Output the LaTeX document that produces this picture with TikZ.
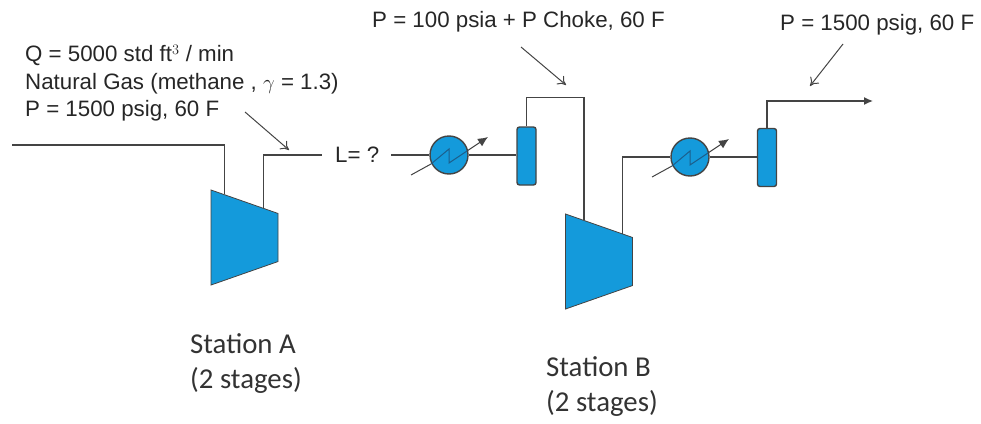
\documentclass[tikz,border=0pt]{standalone}
\usepackage{fontspec}
\setmainfont{Liberation Sans}
\newfontfamily\stationfont{Carlito}
\usepackage{xcolor}
\usetikzlibrary{positioning,arrows.meta,calc,shapes.geometric}
\definecolor{unitblue}{HTML}{149ADB}
\definecolor{pipegray}{HTML}{444444}
\definecolor{coildark}{HTML}{1C5F8C}

\begin{document}
\begin{tikzpicture}[
  x=1pt, y=-1pt,
  pipe/.style={draw=pipegray, line width=1.3pt},
  flowarr/.style={pipe, -{Latex[length=9pt,width=8pt]}},
  note/.style={draw=pipegray, line width=1pt, -{To[length=8pt,width=11pt]}},
  compressor/.style={draw=pipegray, fill=unitblue, line width=0.8pt, trapezium, rotate=-90, trapezium angle=64,
    trapezium stretches=true, minimum width=95pt, minimum height=67pt, inner sep=1pt},
  cooler/.style={draw=pipegray, fill=unitblue, line width=1.4pt, circle, minimum size=38pt, inner sep=0pt},
  vessel/.style={draw=pipegray, fill=unitblue, line width=1.4pt, rounded corners=2.5pt, minimum width=19pt, minimum height=58pt, inner sep=0pt},
  cond/.style={text=black!85, font=\fontsize{22.3}{27.5}\selectfont, align=left, inner sep=0pt},
  station/.style={text=black!80, font=\stationfont\fontsize{28.8}{35.5}\selectfont, align=left, inner sep=0pt}
]
  \useasboundingbox (0,0) rectangle (981,423);

  % units
  \node[compressor] (compA) at (244.5,237.5) {};
  \node[compressor] (compB) at (599,261.5) {};
  \node[cooler] (coolA) at (449,155) {};
  \node[cooler] (coolB) at (690,157) {};
  \node[vessel] (sepA) at (526.5,156) {};
  \node[vessel] (sepB) at (767,157.5) {};

  % text
  \node[cond, anchor=west] (feed) at (25,83) {Q = 5000 std ft$^{3}$ / min\\Natural Gas (methane , $\gamma$ = 1.3)\\P = 1500 psig, 60 F};
  \node[cond, anchor=west] (choke) at (372,22) {P = 100 psia + P Choke, 60 F};
  \node[cond, anchor=west] (exit) at (780,25) {P = 1500 psig, 60 F};
  \node[cond, anchor=west, inner xsep=0pt] (len) at (335,155) {L= ?};
  \node[station, anchor=north west] (stnA) at (190,333) {Station A\\(2 stages)};
  \node[station, anchor=north west] (stnB) at (546,356) {Station B\\(2 stages)};

  % free ends
  \coordinate (inlet) at (12,145);
  \coordinate (outlet) at (873,101);
  \coordinate (feedtip) at (289,150);
  \coordinate (feedtail) at (245,112);
  \coordinate (choketip) at (566,85);
  \coordinate (choketail) at (521,47);
  \coordinate (exittip) at (810,86);
  \coordinate (exittail) at (843,44);
  \coordinate (inA) at ($(compA.bottom left corner)!0.21!(compA.top left corner)$);
  \coordinate (outA) at ($(compA.bottom left corner)!0.78!(compA.top left corner)$);
  \coordinate (inB) at ($(compB.bottom left corner)!0.28!(compB.top left corner)$);
  \coordinate (outB) at ($(compB.bottom left corner)!0.85!(compB.top left corner)$);

  % pipes
  \draw[pipe] (inlet) -| (inA);
  \draw[pipe] (outA) |- ($(len.west)+(-13,0)$);
  \draw[pipe] ($(len.east)+(12,0)$) -- (coolA.west);
  \draw[pipe] (coolA.east) -- (coolA.east -| sepA.west);
  \draw[pipe] (sepA.north) -- ++(0,-29) -| (inB);
  \draw[pipe] (outB) |- (coolB.west);
  \draw[pipe] (coolB.east) -- (coolB.east -| sepB.west);
  \draw[flowarr] (sepB.north) |- (outlet);

  % cooler symbols
  \foreach \u in {coolA, coolB} {
    \draw[pipe, line width=1pt] ($(\u)+(-38,20)$) -- ($(\u)+(-18,9)$);
    \draw[coildark, line width=1pt] ($(\u)+(-18,9)$) -- ($(\u)+(0,-6)$) -- ($(\u)+(0,8)$) -- ($(\u)+(18,-4)$);
    \draw[pipe, line width=1pt, -{Latex[length=10pt,width=9pt]}] ($(\u)+(18,-4)$) -- ($(\u)+(39,-18)$);
  }

  % pointers
  \draw[note] (feedtail) -- (feedtip);
  \draw[note] (choketail) -- (choketip);
  \draw[note] (exittail) -- (exittip);
\end{tikzpicture}
\end{document}
